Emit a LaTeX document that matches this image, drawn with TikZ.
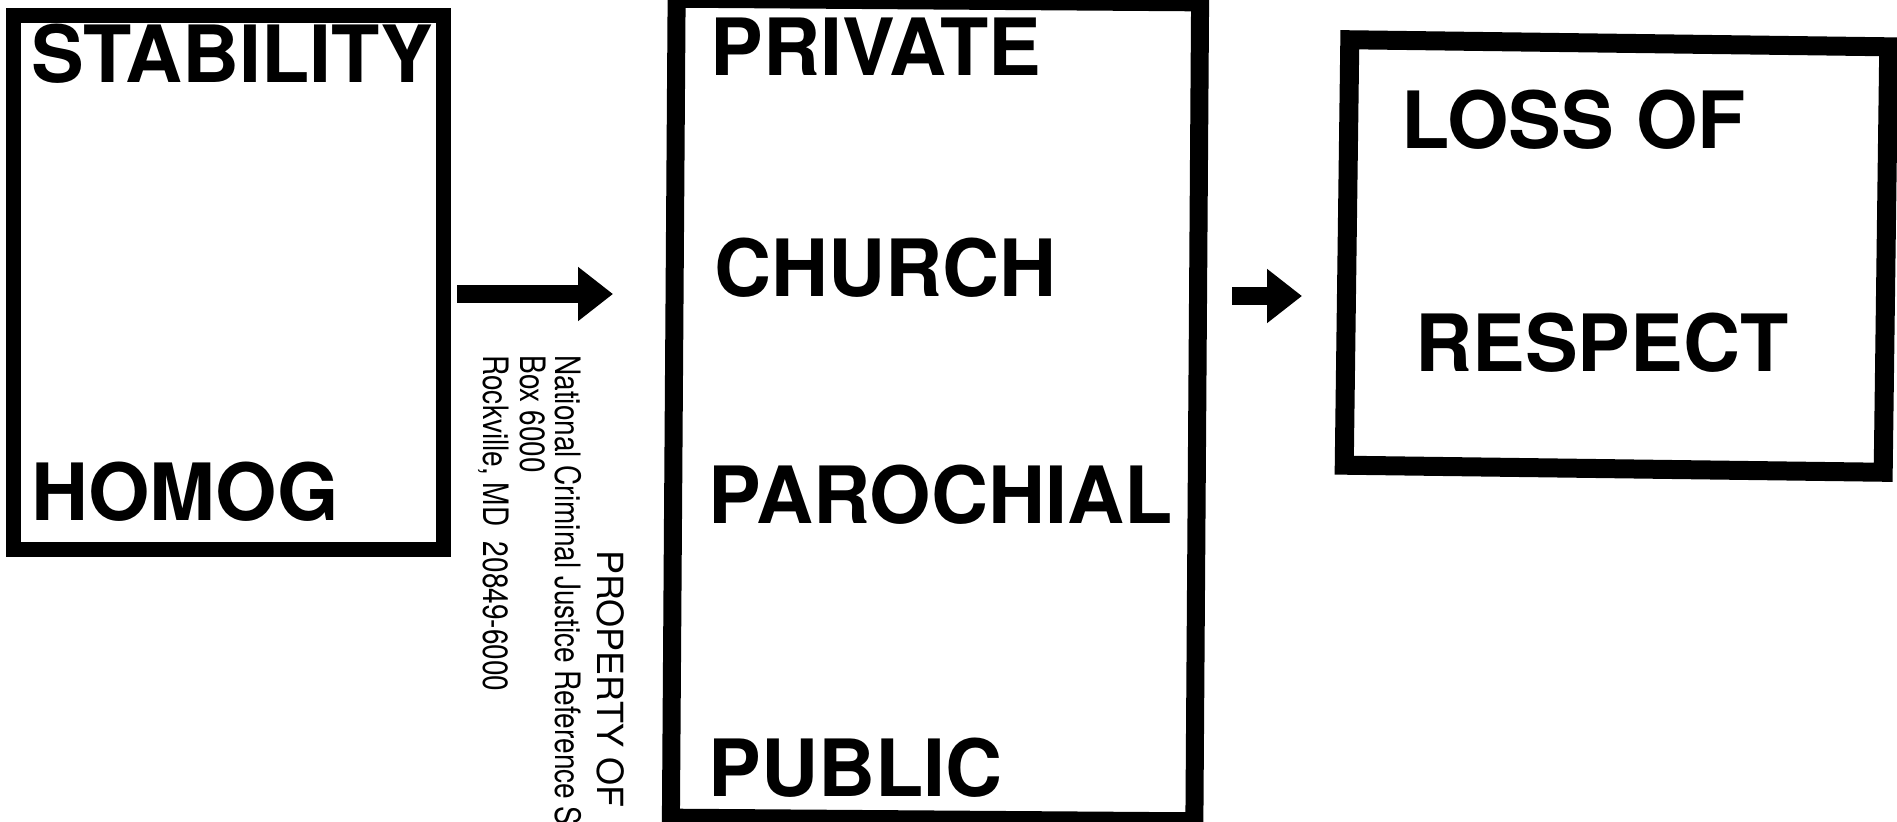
\documentclass[tikz,border=0pt]{standalone}
\usepackage{fontspec}
\setmainfont{TeX Gyre Heros}
\newfontfamily\stampfont[FakeStretch=0.8]{TeX Gyre Heros}
\usetikzlibrary{arrows.meta}
\begin{document}
\begin{tikzpicture}[x=0.5pt,y=-0.5pt,
  frame/.style={draw=black, fill=none, inner sep=0pt},
  label/.style={anchor=base west, inner sep=0pt, font=\fontsize{39.5}{41}\selectfont\bfseries},
  stampline/.style={rotate=-90, anchor=base west, inner sep=0pt, font=\fontsize{17.5}{18}\stampfont},
  stamphead/.style={rotate=-90, anchor=base west, inner sep=0pt, font=\fontsize{18}{19}\selectfont},
  blockarrow/.style={draw=black, line width=9pt, -{Triangle[length=17.5pt,width=26pt]}}]
\useasboundingbox (0,0) rectangle (1897,821);
\clip (0,0) rectangle (1897,821);
% boxes
\node[frame, line width=7.5pt, minimum width=215pt, minimum height=267pt] (b1) at (228.5,282.5) {};
\node[frame, line width=9pt, minimum width=261.75pt, minimum height=409.5pt, rotate=-0.4] (b2) at (935.5,410) {};
\node[frame, line width=9.5pt, minimum width=269.5pt, minimum height=212.75pt, rotate=-0.75] (b3) at (1616.5,256) {};
% texts box 1
\node[label] (t1) at (31,82) {STABILITY};
\node[label] (t2) at (31,520) {HOMOG};
% texts box 2
\node[label] (t3) at (710,75) {PRIVATE};
\node[label] (t4) at (714,296) {CHURCH};
\node[label] (t5) at (708,523) {PAROCHIAL};
\node[label] (t6) at (708,796) {PUBLIC};
% texts box 3
\node[label] (t7) at (1401,148) {LOSS OF};
\node[label] (t8) at (1415,371) {RESPECT};
% stamp
\node[stamphead] (s1) at (597,550) {PROPERTY OF};
\node[stampline] (s2) at (555,355) {National Criminal Justice Reference Service};
\node[stampline] (s3) at (520,355) {Box 6000};
\node[stampline] (s4) at (483,355) {Rockville, MD\ \ 20849-6000};
% arrows
\coordinate (a1s) at (457,294);
\coordinate (a1e) at (613,294);
\coordinate (a2s) at (1232,296);
\coordinate (a2e) at (1302,296);
\draw[blockarrow] (a1s) -- (a1e);
\draw[blockarrow] (a2s) -- (a2e);
\end{tikzpicture}
\end{document}
